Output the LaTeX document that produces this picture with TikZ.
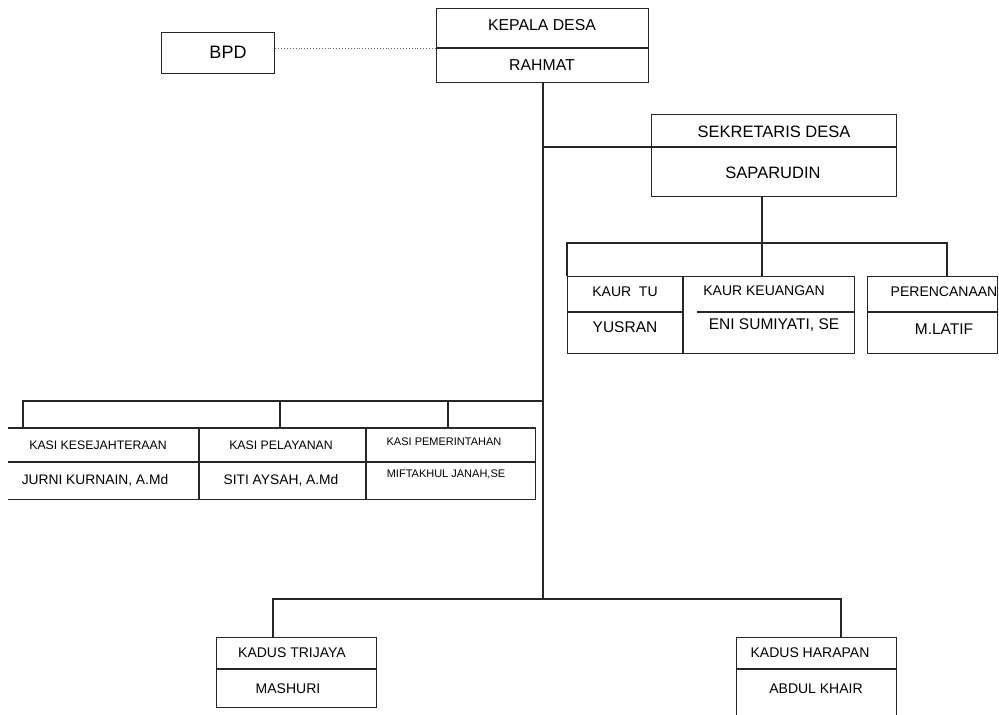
\documentclass[tikz,border=0pt]{standalone}
\usepackage{fontspec}
\setmainfont{Liberation Sans}
\begin{document}
\begin{tikzpicture}[x=1pt,y=-1pt,
  ln/.style={line width=1.3pt,draw=black!85},
  boxx/.style={ln,inner sep=0pt,anchor=north west},
  hole/.style={inner sep=0pt,anchor=north west},
  txt/.style={inner sep=0pt,text=black,anchor=center},
  tA/.style={txt,font=\fontsize{15.8}{18}\selectfont},
  tB/.style={txt,font=\fontsize{16.5}{19}\selectfont},
  tK/.style={txt,font=\fontsize{14}{16}\selectfont},
  tN/.style={txt,font=\fontsize{15.5}{18}\selectfont},
  tS/.style={txt,font=\fontsize{12.3}{14}\selectfont},
  tSN/.style={txt,font=\fontsize{13.8}{16}\selectfont},
  tP/.style={txt,font=\fontsize{11}{13}\selectfont},
  tD/.style={txt,font=\fontsize{14}{16}\selectfont}]
\useasboundingbox (0,0) rectangle (999,715);

% ---------- KEPALA DESA ----------
\node[boxx,minimum width=212pt,minimum height=74pt] (kepala) at (436,8) {};
\coordinate (kmid) at (436,48);
\draw[ln] (kmid) -- (kmid -| kepala.east);
\node[tA] (kepalaT) at (542,25) {KEPALA DESA};
\node[tA] (kepalaN) at (542,65) {RAHMAT};

% ---------- BPD ----------
\node[boxx,minimum width=113pt,minimum height=41pt] (bpd) at (161,32) {};
\node[txt,font=\fontsize{18}{21}\selectfont] (bpdT) at (228,52) {BPD};
\draw[line width=0.9pt,draw=black!60,dotted] (bpd.east |- kmid) -- (kmid);

% ---------- trunk ----------
\coordinate (trunktop) at (543,82);
\coordinate (sekjoin) at (543,147);
\coordinate (kasijoin) at (543,401);
\coordinate (trunkbot) at (543,599);
\draw[ln] (trunktop) -- (trunkbot);

% ---------- SEKRETARIS DESA ----------
\node[boxx,minimum width=245pt,minimum height=82pt] (sek) at (651,114) {};
\draw[ln] (sek.west |- 0,147) -- (sek.east |- 0,147);
\draw[ln] (sekjoin) -- (sek.west |- sekjoin);
\node[tB] (sekT) at (774,132) {SEKRETARIS DESA};
\node[tB] (sekN) at (773,173) {SAPARUDIN};

% ---------- KAUR ----------
\node[boxx,minimum width=287pt,minimum height=77pt] (kaur) at (567,276) {};
\draw[ln] (683,276) -- (683,353);
\draw[ln] (567,312) -- (683,312);
\draw[ln] (697,312) -- (854,312);
\node[boxx,minimum width=130pt,minimum height=77pt] (per) at (867,276) {};
\draw[ln] (per.west |- 0,312) -- (per.east |- 0,312);

\coordinate (kb) at (762,243);
\coordinate (kbl) at (567,243);
\coordinate (kbr) at (947,243);
\draw[ln] (sek.south -| kb) -- (kb |- kaur.north);
\draw[ln] (kaur.north west) -- (kbl) -- (kbr) -- (kbr |- per.north);

\node[tK] (tuT) at (625,292) {KAUR\ \ TU};
\node[tN] (tuN) at (625,327) {YUSRAN};
\node[tK] (keuT) at (764,291) {KAUR KEUANGAN};
\node[tN] (keuN) at (774,325) {ENI SUMIYATI, SE};
\node[tK] (perT) at (944,292) {PERENCANAAN};
\node[tN] (perN) at (944,329) {M.LATIF};

% ---------- KASI ----------
\node[hole,minimum width=527pt,minimum height=71pt] (kasi) at (8,428) {};
\draw[ln] (kasi.north west) -- (kasi.north east) -- (kasi.south east) -- (kasi.south west);
\draw[ln] (kasi.west |- 0,462) -- (kasi.east |- 0,462);
\draw[ln] (199,428) -- (199,499);
\draw[ln] (366,428) -- (366,499);

\coordinate (ka1) at (23,401);
\coordinate (ka2) at (280,401);
\coordinate (ka3) at (448,401);
\draw[ln] (kasijoin) -- (ka1) -- (ka1 |- kasi.north);
\draw[ln] (ka2) -- (ka2 |- kasi.north);
\draw[ln] (ka3) -- (ka3 |- kasi.north);

\node[tS] (k1T) at (98,445) {KASI KESEJAHTERAAN};
\node[tSN] (k1N) at (95,480) {JURNI KURNAIN, A.Md};
\node[tS] (k2T) at (281,445) {KASI PELAYANAN};
\node[tSN] (k2N) at (281,480) {SITI AYSAH, A.Md};
\node[tP] (k3T) at (444,442) {KASI PEMERINTAHAN};
\node[tP] (k3N) at (446,474) {MIFTAKHUL JANAH,SE};

% ---------- KADUS ----------
\node[boxx,minimum width=160pt,minimum height=70pt] (kd1) at (216,637) {};
\draw[ln] (kd1.west |- 0,669) -- (kd1.east |- 0,669);
\node[boxx,minimum width=160pt,minimum height=83pt] (kd2) at (736,637) {};
\draw[ln] (kd2.west |- 0,669) -- (kd2.east |- 0,669);

\coordinate (kdl) at (273,599);
\coordinate (kdr) at (841,599);
\draw[ln] (kdl |- kd1.north) -- (kdl) -- (kdr) -- (kdr |- kd2.north);

\node[tD] (kd1T) at (292,653) {KADUS TRIJAYA};
\node[tD] (kd1N) at (288,689) {MASHURI};
\node[tD] (kd2T) at (810,653) {KADUS HARAPAN};
\node[tD] (kd2N) at (816,689) {ABDUL KHAIR};
\end{tikzpicture}
\end{document}
